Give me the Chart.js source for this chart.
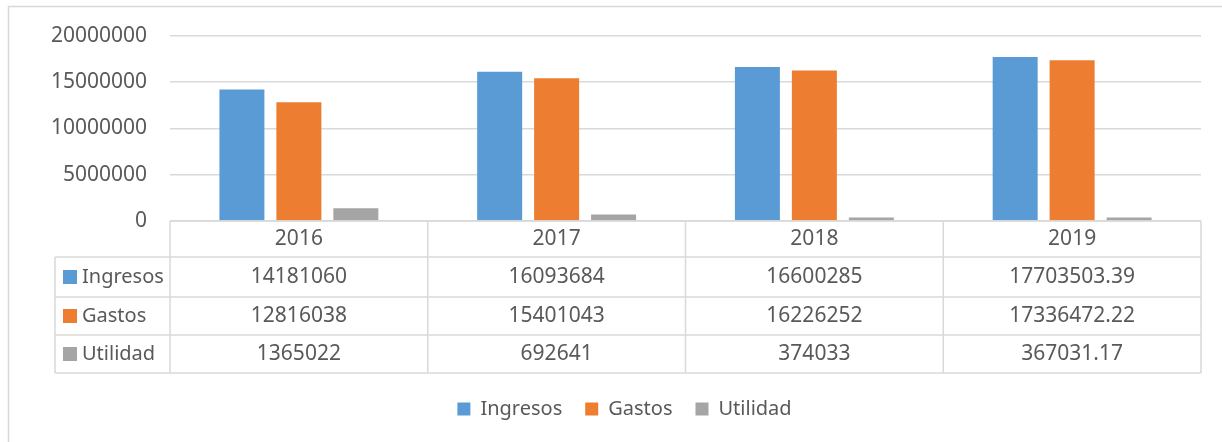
<!DOCTYPE html>
<html>
<head>
<meta charset="utf-8">
<script src="https://cdn.jsdelivr.net/npm/chart.js@4"></script>
<style>
  html, body { margin: 0; padding: 0; background: #fff; }
  #wrap { width: 1222px; height: 442px; position: relative; }
</style>
</head>
<body>
<div id="wrap"><canvas id="chart" width="1222" height="442"></canvas></div>
<script>
// Data
const years = ['2016', '2017', '2018', '2019'];
const ingresos = [14181060, 16093684, 16600285, 17703503.39];
const gastos = [12816038, 15401043, 16226252, 17336472.22];
const utilidad = [1365022, 692641, 374033, 367031.17];
const yTicks = [0, 5000000, 10000000, 15000000, 20000000];

const FONT = '"Noto Sans", "Open Sans", sans-serif';
const TEXT = '#595959';
const LINE = '#d9d9d9';

// draws the outer frame and the data table under the x axis
const dataTablePlugin = {
    id: 'dataTable',
    afterLayout: function (chart) {
        // legend sits a bit right of centre in the original
        chart.legend.left += 24;
        chart.legend.right += 24;
    },
    afterDraw: function (chart) {
        const ctx = chart.ctx;
        const x = chart.scales.x;
        const area = chart.chartArea;
        const half = (x.getPixelForValue(1) - x.getPixelForValue(0)) / 2;
        const top = area.bottom;
        const rowH = [36, 40, 38, 38];
        const labelLeft = 55;

        ctx.save();
        ctx.strokeStyle = LINE;
        ctx.lineWidth = 1.5;

        // frame (only left and top are inside the picture)
        ctx.beginPath();
        ctx.moveTo(8.5, 460);
        ctx.lineTo(8.5, 6.5);
        ctx.lineTo(1240, 6.5);
        ctx.stroke();

        // row edges
        let ys = [top];
        rowH.forEach(h => ys.push(ys[ys.length - 1] + h));
        const left = x.getPixelForValue(0) - half;
        const right = x.getPixelForValue(years.length - 1) + half;

        ctx.beginPath();
        ys.forEach((yy, i) => {
            ctx.moveTo(i === 0 ? left : labelLeft, yy);
            ctx.lineTo(right, yy);
        });
        // column edges
        for (let i = 0; i <= years.length; i++) {
            const cx = left + i * half * 2;
            ctx.moveTo(cx, top);
            ctx.lineTo(cx, ys[ys.length - 1]);
        }
        ctx.moveTo(labelLeft, ys[1]);
        ctx.lineTo(labelLeft, ys[ys.length - 1]);
        ctx.stroke();

        ctx.textBaseline = 'middle';
        ctx.textAlign = 'center';
        ctx.fillStyle = TEXT;
        ctx.font = '21px ' + FONT;

        years.forEach((yr, i) => {
            ctx.fillText(yr, x.getPixelForValue(i), (ys[0] + ys[1]) / 2);
        });

        chart.data.datasets.forEach((ds, r) => {
            const cy = (ys[r + 1] + ys[r + 2]) / 2;
            ctx.fillStyle = ds.backgroundColor;
            ctx.fillRect(63, cy - 7, 14, 14);
            ctx.fillStyle = TEXT;
            ctx.textAlign = 'left';
            ctx.font = '20px ' + FONT;
            ctx.fillText(ds.label, 82, cy);
            ctx.textAlign = 'center';
            ctx.font = '21px ' + FONT;
            ds.data.forEach((v, i) => {
                ctx.fillText(String(v), x.getPixelForValue(i), cy);
            });
        });
        ctx.restore();
    }
};

new Chart(document.getElementById('chart'), {
    type: 'bar',
    data: {
        labels: years,
        datasets: [
            { label: 'Ingresos', data: ingresos, backgroundColor: '#5b9bd5' },
            { label: 'Gastos', data: gastos, backgroundColor: '#ed7d31' },
            { label: 'Utilidad', data: utilidad, backgroundColor: '#a5a5a5' }
        ]
    },
    options: {
        responsive: false,
        animation: false,
        devicePixelRatio: 1,
        categoryPercentage: 0.663,
        barPercentage: 0.79,
        layout: {
            padding: { left: 0, right: 21, top: 35, bottom: 13 }
        },
        plugins: {
            legend: {
                display: true,
                position: 'bottom',
                labels: {
                    boxWidth: 13,
                    boxHeight: 13,
                    padding: 23,
                    color: TEXT,
                    font: { family: FONT, size: 20 }
                }
            },
            tooltip: { enabled: false }
        },
        scales: {
            x: {
                grid: { display: false },
                border: { display: false },
                ticks: { display: false },
                afterFit: function (scale) {
                    scale.height = 155;
                }
            },
            y: {
                min: 0,
                max: 20000000,
                afterBuildTicks: function (scale) {
                    scale.ticks = yTicks.map(v => ({ value: v }));
                },
                grid: {
                    color: LINE,
                    lineWidth: 1.5,
                    drawTicks: false
                },
                border: { display: false },
                ticks: {
                    padding: 23,
                    color: TEXT,
                    font: { family: FONT, size: 21 },
                    callback: function (v) { return String(v); }
                },
                afterFit: function (scale) {
                    scale.width = 170;
                }
            }
        }
    },
    plugins: [dataTablePlugin]
});
</script>
</body>
</html>
